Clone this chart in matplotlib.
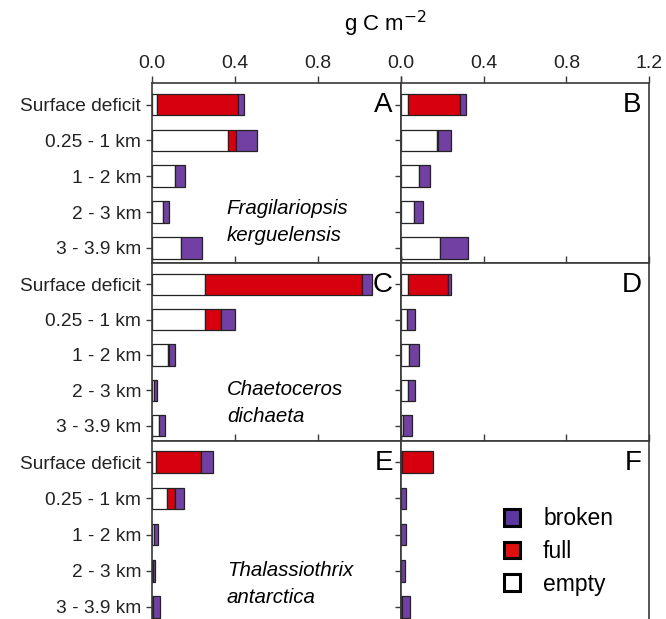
import numpy as np
import matplotlib
matplotlib.use('Agg')
import matplotlib.pyplot as plt
from matplotlib.patches import Patch

plt.rcParams['font.family'] = ['Liberation Sans', 'DejaVu Sans']

# 深度分层
depths = ['Surface deficit', '0.25 - 1 km', '1 - 2 km', '2 - 3 km', '3 - 3.9 km']
panel_letters = ['A', 'B', 'C', 'D', 'E', 'F']
species = ['Fragilariopsis\nkerguelensis', 'Chaetoceros\ndichaeta', 'Thalassiothrix\nantarctica']

# 各面板数值 (g C m-2): empty / full / broken
empty_A = [0.024, 0.366, 0.109, 0.050, 0.141]
full_A = [0.390, 0.037, 0.0, 0.0, 0.0]
broken_A = [0.028, 0.105, 0.048, 0.032, 0.097]

empty_B = [0.034, 0.176, 0.087, 0.063, 0.189]
full_B = [0.250, 0.005, 0.0, 0.0, 0.0]
broken_B = [0.032, 0.063, 0.053, 0.043, 0.135]

empty_C = [0.255, 0.254, 0.076, 0.008, 0.031]
full_C = [0.759, 0.080, 0.007, 0.0, 0.0]
broken_C = [0.048, 0.064, 0.026, 0.016, 0.032]

empty_D = [0.034, 0.032, 0.042, 0.034, 0.013]
full_D = [0.193, 0.0, 0.0, 0.0, 0.0]
broken_D = [0.017, 0.036, 0.047, 0.035, 0.040]

empty_E = [0.016, 0.069, 0.010, 0.002, 0.005]
full_E = [0.220, 0.039, 0.0, 0.0, 0.0]
broken_E = [0.056, 0.043, 0.019, 0.012, 0.032]

empty_F = [0.005, 0.003, 0.003, 0.002, 0.008]
full_F = [0.150, 0.0, 0.0, 0.0, 0.0]
broken_F = [0.0, 0.024, 0.024, 0.021, 0.037]

panels = [
    (empty_A, full_A, broken_A), (empty_B, full_B, broken_B),
    (empty_C, full_C, broken_C), (empty_D, full_D, broken_D),
    (empty_E, full_E, broken_E), (empty_F, full_F, broken_F),
]

c_empty = 'white'
c_full = '#d7000f'
c_broken = '#7240a2'
frame_col = '#3a3a3a'

fig = plt.figure(figsize=(6.66, 6.19), dpi=100)
W, H = 666.0, 619.0

# 面板像素位置
col_x = [(152.3, 400.7), (400.7, 649.3)]
row_y = [(83, 263), (263, 440.5), (440.5, 622)]
species_y = [0.228, 0.21, 0.208]

y = np.arange(len(depths))

for i, (emp, ful, brk) in enumerate(panels):
    r, c = divmod(i, 2)
    x0, x1 = col_x[c]
    yt, yb = row_y[r]
    ax = fig.add_axes([x0 / W, 1 - yb / H, (x1 - x0) / W, (yb - yt) / H])

    emp = np.array(emp)
    ful = np.array(ful)
    brk = np.array(brk)
    left = np.zeros(len(depths))
    for vals, col in [(emp, c_empty), (ful, c_full), (brk, c_broken)]:
        m = vals > 0
        ax.barh(y[m], vals[m], left=left[m], height=0.6, color=col,
                edgecolor='#222222', linewidth=0.9)
        left = left + vals

    ax.set_xlim(0, 1.2)
    ax.set_ylim(4.42, -0.6)
    ax.xaxis.tick_top()
    ax.set_xticks([0, 0.4, 0.8, 1.2])
    if r == 0:
        if c == 0:
            ax.set_xticklabels(['0.0', '0.4', '0.8', ''])
        else:
            ax.set_xticklabels(['0.0', '0.4', '0.8', '1.2'])
    else:
        ax.set_xticklabels([])
    ax.set_yticks(y)
    if c == 0:
        ax.set_yticklabels(depths, fontsize=13.8)
    else:
        ax.set_yticklabels([])
    ax.tick_params(axis='x', direction='out', length=5, width=1, colors=frame_col,
                   labelcolor='#222222', labelsize=14, pad=3)
    ax.tick_params(axis='y', direction='out', length=4, width=1, colors=frame_col,
                   labelcolor='#222222', pad=4)
    for s in ax.spines.values():
        s.set_color(frame_col)
        s.set_linewidth(1.2)

    ax.text(0.968, 0.02, panel_letters[i], transform=ax.get_yaxis_transform(),
            ha='right', va='center', fontsize=20)

    if c == 0:
        ax.text(0.3, species_y[r], species[r], transform=ax.transAxes,
                ha='left', va='center', fontsize=14.8, style='italic', linespacing=1.5)

    if i == 5:
        handles = [Patch(facecolor='#5a36a0', edgecolor='black', linewidth=2.2, label='broken'),
                   Patch(facecolor='#e01010', edgecolor='black', linewidth=2.2, label='full'),
                   Patch(facecolor='white', edgecolor='black', linewidth=2.2, label='empty')]
        ax.legend(handles=handles, loc='center left', bbox_to_anchor=(0.37, 0.388),
                  frameon=False, fontsize=16.5, handlelength=0.7, handleheight=0.75,
                  handletextpad=1.0, labelspacing=0.42, borderpad=0)

fig.text(385 / W, 1 - 24 / H, 'g C m$^{-2}$', ha='center', va='center', fontsize=16)

plt.savefig('out.png', dpi=100)
